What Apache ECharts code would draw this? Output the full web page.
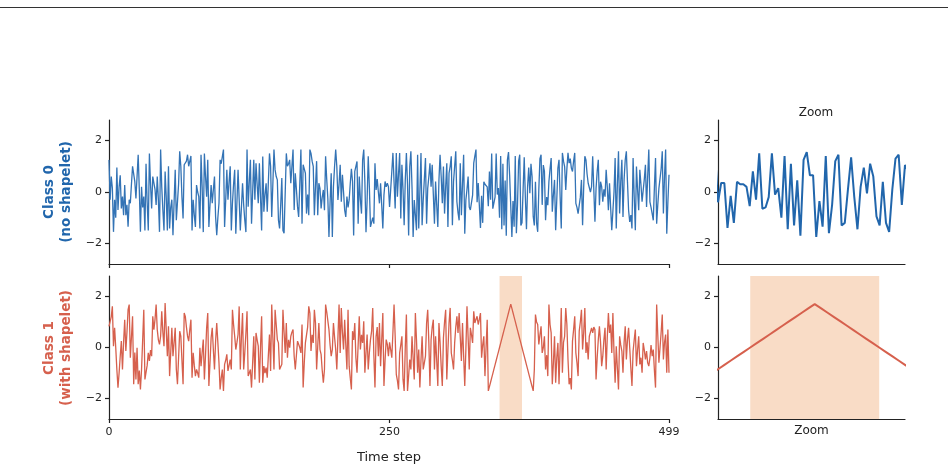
<!DOCTYPE html>
<html>
<head>
<meta charset="utf-8">
<script src="https://cdn.jsdelivr.net/npm/echarts@6/dist/echarts.min.js"></script>
<style>
  html, body { margin: 0; padding: 0; background: #fff; }
  #chart { width: 948px; height: 471px; }
</style>
</head>
<body>
<div id="chart"></div>
<script>
// class 0: random series, no shapelet
const class0 = [
  1.25, -0.3, 0.6, 0.15, -1.55, -0.3, -1.0, 0.95, -0.7, 0.2, 0.65, -0.64, -0.18, -0.9,
  0.27, -0.9, -0.5, -1.35, -0.3, -0.44, 0.3, 1.0, 1.03, 0.4, -0.25, -0.18, 1.45, 0.1,
  -1.55, 0.2, -0.6, -0.18, -1.5, 1.1, -0.4, -1.5, 1.5, 0.3, -0.64, 0.6, 0.6, 0.1,
  -0.5, 0.6, -0.3, -1.55, 1.65, 0.2, -0.7, -1.5, 0.8, -0.2, -1.5, 1.0, -1.42, -0.6,
  -0.3, -1.68, -0.4, 0.86, -1.1, -1.1, 0.3, 1.58, 1.0, -0.2, -1.03, 1.06, 1.0, 1.2,
  1.45, 1.0, 1.2, 1.4, -1.5, -0.3, -0.9, -1.36, 0.27, 0.0, -0.18, -1.42, 1.45, 0.2,
  -1.56, 1.5, 0.6, -0.18, 1.25, -1.36, -0.5, 0.27, -0.44, 0.1, 0.6, -0.97, -1.68, -1.0,
  -0.44, 1.25, 1.1, 1.06, 1.65, -1.36, -0.3, 0.86, -0.3, 0.4, 1.0, -1.5, -0.44, 0.3,
  0.86, -1.62, -0.4, 0.86, -0.3, -1.5, -0.6, 0.34, -0.5, -1.1, -1.56, 1.65, -0.57, 0.4,
  1.25, -1.23, 0.0, 1.25, -0.3, 1.12, 0.3, -0.44, 1.12, -0.2, -1.5, 1.38, -0.77, -0.1,
  0.34, -0.77, 0.4, 1.5, 1.0, -0.97, 0.3, 1.65, 0.86, 0.6, 0.47, -1.1, -1.42, -0.5,
  0.54, -1.5, -1.6, -1.62, 1.5, 1.0, 1.1, 1.25, 0.34, 1.0, 1.65, -0.7, 0.73, 0.1,
  -0.57, -0.97, 0.3, 1.65, -1.23, 1.06, 0.9, 0.73, -0.84, -0.1, -0.9, 1.65, 1.5, 1.2,
  1.0, -0.9, 0.2, 1.2, -0.9,
  0.34, 0.14, -0.64, -0.2, 0.08, -0.71, 1.39, 0.5, -0.25, -1.75, -0.4, 0.73, -1.75, 0.21, 1.0, 1.65, 0.99, -0.31, 0.3,
  1.06, -0.38, 0.67, 0.0, -0.71, -0.97, -0.18, -0.6, -0.31, 0.34, 0.9, 0.41, -1.69, 0.8, 1.0, 1.19, -1.23, 0.6, -0.3,
  -0.84, 1.25, 1.65, 0.4, -1.56, -0.31, 1.39, 0.2, -1.36, -1.42, -1.0, -1.23, 1.12, 0.08, 0.5, 0.01, -0.44, 0.34, -0.5,
  -1.42, -0.12, 0.41, 0.2, 0.34, 0.21, -0.58, 0.1, 0.8, 1.52, 0.4, -0.64, 1.52, -0.18, 0.7, 1.52, -1.03, 1.06, 0.1,
  -1.29, 0.47, 1.52, 0.3, -1.69, 0.99, 1.58, 0.2, -1.75, -0.31, -0.9, -1.49, 1.45, -1.42, 0.0, 1.52, -1.29, -0.31, 0.5,
  1.32, -1.23, 0.14, 0.6, 1.12, 0.21, 1.06, -0.1, -1.23, 0.41, -0.5, -1.36, 0.47, 1.45, 0.6, -0.44, 0.99, -0.84, 0.2,
  1.12, -1.36, 0.73, 1.0, 1.39, -1.29, 0.41, 1.0, 1.58, -0.38, -0.8, -1.1, 1.12, -0.9, 0.3, 1.45, -1.62, -0.31, 0.1,
  0.6, -0.58, -0.7, -0.64, -0.12, 1.12, 1.4, 1.65,
  -0.4, 0.35, 0.35, -1.4, -0.15, -1.2, 0.4, 0.3, 0.3, 0.2,
  -0.55, 0.8, -0.3, 1.5, -0.65, -0.6, -0.2, 1.5, -0.1, 0.15,
  -1.0, 1.4, -1.45, 1.1, -1.3, 0.45, -1.7, 1.25, 1.55, 0.65,
  0.65, -1.75, -0.35, -1.35, 1.4, -1.6, -0.5, 1.2, 1.45, -1.3,
  -1.2, 0.1, 1.35, -0.2, -1.45, 0.2, 0.95, -0.05, 1.1, 0.6,
  -0.95, -1.3, 0.4, -1.2, -1.55, 0.1, 1.3, 1.45, -0.5, 1.05,
  0.8, -1.1, -0.2, -0.51, 0.41, 0.9, 1.32, -0.77, -0.1, 0.47, -1.49, -0.3, 0.93, 1.25, -0.2,
  -1.42, 1.52, 1.2, 0.99, 0.08, 0.9, 1.52, 1.12, 1.3, 0.93, 0.8, 1.2, 1.52, -0.44, -0.6,
  -0.84, -0.9, -0.2, 0.47, -1.29, 0.2, 1.39, 1.25, 0.7, 0.34, 0.41, 0.0, 0.21, 1.39, 0.1,
  -1.16, 0.14, 0.8, 1.25, -0.51, 0.4, 0.21, -0.38, 0.1, -0.18, 0.86, 0.2, -0.71, 0.34, -0.6,
  -1.49, -1.56, 0.0, 1.32, -1.42, 0.3, 1.58, -0.84, 0.4, 1.25, -0.97, 0.5, 1.25, 1.58, 0.4,
  -0.71, -1.16, -0.9, -1.42, 1.32, -0.2, -1.49, 0.99, 0.1, -0.71, 0.86, 0.3, -0.38, -0.44, 0.5,
  1.06, -0.58, 0.6, 1.65, -0.38, -0.6, -0.84, -1.1, 0.2, 1.32, -1.23, -0.5, 0.14, 0.21, 0.9,
  1.58, -0.84, 0.6, 1.65, -1.62, -0.4, 0.67
];

// class 1: random series with a triangular shapelet around step 358
const class1 = [
  0.83, 0.9, 1.2, 1.61, 0.05, 0.77, 0.0, -0.86, -1.57, -1.0, -0.34, 0.25, -0.86, 0.2,
  1.09, -0.14, 0.6, 1.48, 1.68, -0.4, 0.4, 1.22, -1.44, -0.2, -1.25, -0.01, -1.44, -0.9,
  -1.64, -0.86, 0.3, 1.48, -1.25, -1.25, -0.7, -0.21, -0.53, -0.1, -0.34, 1.22, 0.7, 1.1,
  1.68, 0.7, 0.3, 0.12, 0.44, 1.42, 0.6, 0.05, 1.74, 0.7, -0.34, 0.83, -1.12, -0.2,
  0.77, -0.34, 0.2, 0.77, -0.86, -1.44, -0.4, 0.64, 0.44, -0.5, -1.44, 1.35, 1.22, 0.8,
  0.44, 0.25, 0.7, 1.09, -1.18, -0.21, -0.7, -1.12, -0.86, -1.0, -1.18, -0.01, -0.73, -0.2,
  0.31, -1.25, -0.3, 0.77, 1.35, -1.51, -0.6, 0.38, 0.77, -0.1, -0.86, 0.25, 0.96, 0.2,
  -0.6, -1.64, -1.2, -0.86, -1.7, -0.66, -0.5, -0.27, -0.92, -0.7, -0.47, -0.86, 1.48, 0.9,
  0.44, -0.08, 0.2, 0.51, 1.61, -0.86, 0.4, 1.35, -0.86, -0.2, 0.57, 1.42, -1.12, -1.0,
  -0.86, -1.57, -0.6, 0.44, -1.25, 0.57, 0.3, 0.05, -1.38, 0.0, 1.22, -1.38, -0.73, -1.0,
  -0.79, -1.18, -0.3, 0.51, -0.92, 1.68, 0.4, -0.86, 1.48, 0.9, 0.31, 0.18, -0.86, -0.8,
  -0.66, 1.48, 0.6, -0.21, 0.96, -0.4, 0.3, -0.01, 0.44, 0.6, 0.7, -0.34, -0.86, -0.3,
  0.25, 0.31, 0.0, -0.21, 0.9, -1.57, -0.6, 0.18, 0.12, 0.8, 1.61, 1.35, -0.14, 0.5,
  0.18, 1.48, 0.96, -0.86, 0.05, 0.96,
  -0.08, -0.27, -0.9, -1.38, -0.86, 1.68, 1.4, 1.35, 0.7, 0.1, -0.34, -0.08, 0.96, 0.4,
  -0.08, -0.86, 0.4, 1.68, -0.21, 1.55, 0.6, -0.08, 1.09, 0.1, -0.86, 1.48, -0.73, -1.2,
  -1.64, 0.64, 0.3, 0.96, -0.4, -0.99, 0.1, 1.22, -0.08, 0.5, 0.18, 1.03, -0.99, -0.2,
  0.51, -0.86, -0.2, 0.31, 0.64, 1.55, -0.3, -1.57, 0.44, 0.8, -0.34, 0.96, -0.73, 0.3,
  1.35, -1.51, -0.5, 0.31, 0.12, -0.34, 0.2, -0.08, -0.4, 0.6, 1.68, 0.44, -1.05, -1.3,
  -1.64, -0.21, 0.1, 0.44, -1.25, -1.7, 0.0, 1.29, -1.7, -1.1, -0.47, -0.86, 0.44, -0.4,
  -1.25, 1.35, 0.3, -0.99, -0.08, -1.57, -0.5, 0.44, -0.86, -0.6, -0.34, 0.96, 1.48, 0.2,
  -1.51, 0.31, 0.8, 1.09, -0.86, 0.44, -0.5, -1.51, 0.96, 0.2, -0.73, -1.51, 0.38, 1.0,
  1.48, -1.25, -0.1, 0.96, 1.55, -0.21, -0.5, -0.86, 0.18, 0.8, 1.22, 0.57, 1.35, 0.4,
  -0.53, 0.96, -0.3, -1.51, -0.08, 1.61, 0.4, -0.86, 0.77, 0.5, 0.18, 1.42, 0.96, 1.1,
  1.22, 0.9, 1.1, 1.35, -0.4, 0.1, 0.44, -1.12, 0.0, 1.09,
  -1.7, -1.53, -1.36, -1.19, -1.02, -0.85, -0.68, -0.51, -0.34, -0.17, 0,
  0.17, 0.34, 0.51, 0.68, 0.85, 1.02, 1.19, 1.36, 1.53, 1.7,
  1.53, 1.36, 1.19, 1.02, 0.85, 0.68, 0.51, 0.34, 0.17, 0,
  -0.17, -0.34, -0.51, -0.68, -0.85, -1.02, -1.19, -1.36, -1.53, -1.7,
  -0.86, 1.29, 1.0, 0.9, 0.12, 0.5, 0.83, -0.21, 0.0, 0.44, -0.86, -0.3, -1.12, 1.68, 0.9,
  0.57, -1.44, -0.6, 0.44, -1.38, -0.4, 0.18, -1.44, 0.0, 1.55, -0.99, 0.2, 0.44, 1.55, 0.9,
  -0.47, -1.44, -1.2, -1.64, 0.25, 0.7, 1.22, -0.21, -0.6, -1.12, 0.64, 1.0, 1.48, -0.08, 0.6,
  1.55, -0.21, 0.2, -0.47, 0.44, 0.6, 0.77, 0.57, 0.8, 0.7, -1.25, -0.4, 0.31, 0.83, 0.2,
  -0.73, -0.34, 0.3, 0.77, -0.86, 0.4, 1.35, 0.57, 0.9, -0.21, 1.35, -0.2, -1.38, 0.05, -0.8,
  -1.64, 0.44, 0.1, -0.14, -0.99, 0.2, 0.83, -0.47, 0.3, 0.77, -0.01, -0.8, -1.51, -0.14, 0.3,
  0.7, -0.73, -0.1, 0.44, -0.66, -0.4, -0.99, 0.18, -0.1, -0.47, -0.14, -0.6, -0.73, -0.4, 0.1,
  -0.34, -0.08, -0.9, -1.57, 1.68, 0.5, -0.6, -0.01, 0.6, 1.29, -0.47, 0.2, 0.51, -0.99, 0.7, -0.99
];

const mainTicks = [0, 250, 499];
const yTicks = [-2, 0, 2];
const shapeletSpan = [348, 368];
const zoom0Window = [328, 387];
const zoom1Window = [343, 372];

const BLUE = '#2166ac';
const BLUE_MAIN = '#3373b5';
const RED = '#d6604d';
const INK = '#222222';
const FONT = '"DejaVu Sans", sans-serif';

const toPairs = arr => arr.map((v, i) => [i, v]);
const minus = v => (v < 0 ? '\u2212' + Math.abs(v) : String(v));

function yAxis (gridIndex) {
  return {
    type: 'value',
    gridIndex: gridIndex,
    min: -2.8,
    max: 2.8,
    axisLine: { show: true, onZero: false, lineStyle: { color: INK, width: 1.2 } },
    axisTick: { show: true, length: 4, customValues: yTicks, lineStyle: { color: INK, width: 1.2 } },
    axisLabel: { customValues: yTicks, formatter: minus, color: INK, fontSize: 11, fontFamily: FONT, margin: 7 },
    splitLine: { show: false }
  }
}

function xAxis (gridIndex, range, opts) {
  return Object.assign({
    type: 'value',
    gridIndex: gridIndex,
    min: range[0],
    max: range[1],
    axisLine: { show: true, onZero: false, lineStyle: { color: INK, width: 1.2 } },
    axisTick: { show: false },
    axisLabel: { show: false },
    splitLine: { show: false }
  }, opts)
}

// shaded shapelet window
const shade = {
  silent: true,
  itemStyle: { color: '#f9dcc6' },
  data: [[{ xAxis: shapeletSpan[0] }, { xAxis: shapeletSpan[1] }]]
};

const chart = echarts.init(document.getElementById('chart'));
chart.setOption({
  animation: false,
  backgroundColor: '#ffffff',
  title: {
    text: 'Zoom',
    left: 811,
    top: 102,
    textAlign: 'center',
    textStyle: { fontSize: 12, fontWeight: 'normal', color: INK, fontFamily: FONT }
  },
  grid: [
    { left: 109, top: 120, width: 560, height: 144 },
    { left: 109, top: 276, width: 560, height: 143 },
    { left: 718, top: 120, width: 187, height: 144 },
    { left: 718, top: 276, width: 187, height: 143 }
  ],
  xAxis: [
    xAxis(0, [0, 499], {
      axisTick: { show: true, length: 4, customValues: mainTicks, lineStyle: { color: INK, width: 1.2 } }
    }),
    xAxis(1, [0, 499], {
      name: 'Time step',
      nameLocation: 'middle',
      nameGap: 32,
      nameTextStyle: { fontSize: 13, color: INK, fontFamily: FONT },
      axisTick: { show: true, length: 4, customValues: mainTicks, lineStyle: { color: INK, width: 1.2 } },
      axisLabel: { show: true, customValues: mainTicks, color: INK, fontSize: 11, fontFamily: FONT, margin: 8 }
    }),
    xAxis(2, zoom0Window),
    xAxis(3, zoom1Window, {
      name: 'Zoom',
      nameLocation: 'middle',
      nameGap: 6,
      nameTextStyle: { fontSize: 12, color: INK, fontFamily: FONT, verticalAlign: 'top' }
    })
  ],
  yAxis: [yAxis(0), yAxis(1), yAxis(2), yAxis(3)],
  series: [
    {
      type: 'line', xAxisIndex: 0, yAxisIndex: 0, data: toPairs(class0),
      symbol: 'none', lineStyle: { color: BLUE_MAIN, width: 1.3 }
    },
    {
      type: 'line', xAxisIndex: 1, yAxisIndex: 1, data: toPairs(class1),
      symbol: 'none', lineStyle: { color: RED, width: 1.3 }, markArea: shade
    },
    {
      type: 'line', xAxisIndex: 2, yAxisIndex: 2, data: toPairs(class0),
      symbol: 'none', clip: true, lineStyle: { color: BLUE, width: 2 }
    },
    {
      type: 'line', xAxisIndex: 3, yAxisIndex: 3, data: toPairs(class1),
      symbol: 'none', clip: true, lineStyle: { color: RED, width: 2 }, markArea: shade
    }
  ],
  graphic: [
    {
      type: 'line', silent: true,
      shape: { x1: 0, y1: 7.5, x2: 948, y2: 7.5 },
      style: { stroke: '#333', lineWidth: 1 }
    },
    {
      type: 'text', x: 58, y: 192, rotation: Math.PI / 2,
      style: { text: 'Class 0\n(no shapelet)', fill: BLUE, font: 'bold 13.5px ' + FONT, align: 'center', verticalAlign: 'middle', lineHeight: 17 }
    },
    {
      type: 'text', x: 58, y: 348, rotation: Math.PI / 2,
      style: { text: 'Class 1\n(with shapelet)', fill: RED, font: 'bold 13.5px ' + FONT, align: 'center', verticalAlign: 'middle', lineHeight: 17 }
    }
  ]
});
</script>
</body>
</html>
